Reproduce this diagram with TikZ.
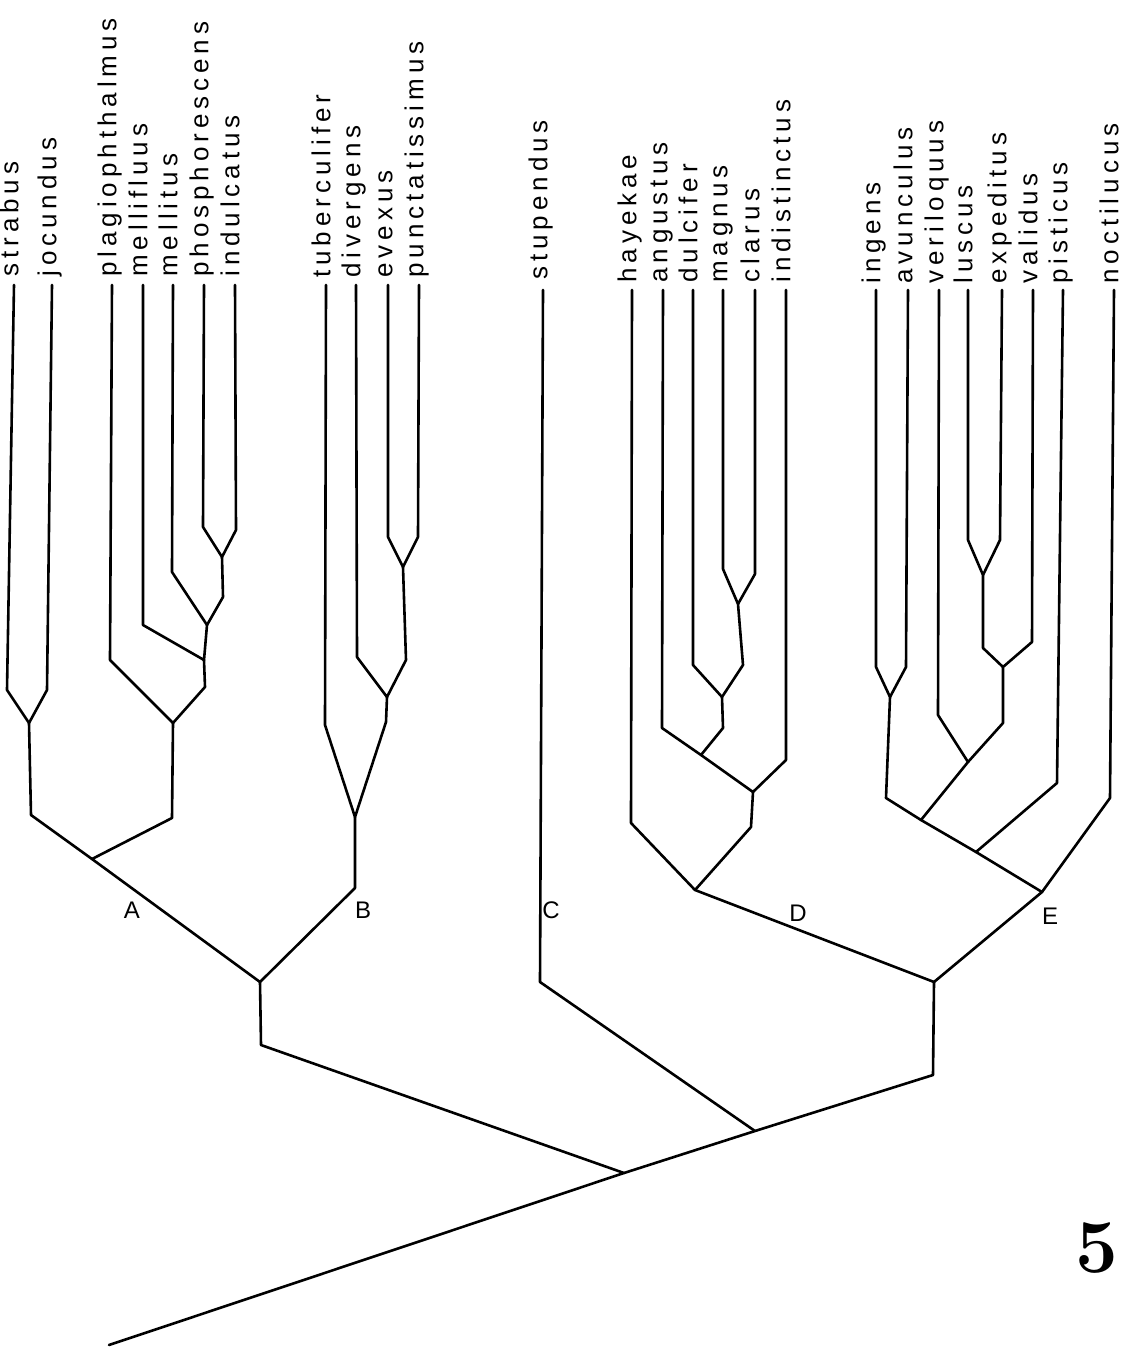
\documentclass[tikz,border=0pt]{standalone}
\usepackage{fontspec}
\newfontfamily\labfont{Liberation Sans}[LetterSpace=19]
\newfontfamily\cladefont{Liberation Sans}
\begin{document}
\begin{tikzpicture}[x=0.5pt,y=-0.5pt]
\tikzset{
  branch/.style={line width=1.3pt, line join=round, line cap=round},
  taxon/.style={rotate=90, anchor=mid west, inner sep=0pt, font=\labfont\fontsize{13}{15}\selectfont},
  clade/.style={inner sep=0pt, font=\cladefont\fontsize{12}{14}\selectfont},
}
\useasboundingbox (0,0) rectangle (1139,1349);
% ---- leaf tops and bottoms
\coordinate (strabus) at (14,285);   \coordinate (strabus-b) at (7,690);
\coordinate (jocundus) at (52,285);  \coordinate (jocundus-b) at (47,690);
\coordinate (plagio) at (112,285);   \coordinate (plagio-b) at (110,660);
\coordinate (mellifluus) at (143,285); \coordinate (mellifluus-b) at (143,625);
\coordinate (mellitus) at (173,285); \coordinate (mellitus-b) at (172,572);
\coordinate (phosph) at (204,285);   \coordinate (phosph-b) at (203,527);
\coordinate (indulc) at (235,285);   \coordinate (indulc-b) at (236,530);
\coordinate (tuberc) at (326,285);   \coordinate (tuberc-b) at (325,725);
\coordinate (diverg) at (356,285);   \coordinate (diverg-b) at (357,657);
\coordinate (evexus) at (388,285);   \coordinate (evexus-b) at (388,537);
\coordinate (punct) at (419,285);    \coordinate (punct-b) at (418,537);
\coordinate (stupendus) at (543,290); \coordinate (stupendus-b) at (540,982);
\coordinate (hayekae) at (632,290);  \coordinate (hayekae-b) at (631,823);
\coordinate (angustus) at (663,290); \coordinate (angustus-b) at (662,728);
\coordinate (dulcifer) at (693,290); \coordinate (dulcifer-b) at (693,665);
\coordinate (magnus) at (723,290);   \coordinate (magnus-b) at (723,569);
\coordinate (clarus) at (755,290);   \coordinate (clarus-b) at (755,574);
\coordinate (indist) at (786,290);   \coordinate (indist-b) at (786,760);
\coordinate (ingens) at (876,290);   \coordinate (ingens-b) at (876,667);
\coordinate (avunc) at (908,290);    \coordinate (avunc-b) at (906,667);
\coordinate (veril) at (939,290);    \coordinate (veril-b) at (938,715);
\coordinate (luscus) at (968,290);   \coordinate (luscus-b) at (968,540);
\coordinate (exped) at (1002,290);   \coordinate (exped-b) at (1000,540);
\coordinate (validus) at (1033,290); \coordinate (validus-b) at (1032,642);
\coordinate (pisticus) at (1063,290); \coordinate (pisticus-b) at (1057,783);
\coordinate (noctil) at (1114,290);  \coordinate (noctil-b) at (1110,798);
% ---- junctions
\coordinate (j1) at (29,723);  \coordinate (j1b) at (31,815);
\coordinate (m4) at (222,557); \coordinate (m4b) at (223,597);
\coordinate (m3) at (207,625);
\coordinate (m2) at (204,660); \coordinate (m2b) at (205,687);
\coordinate (p1) at (173,723); \coordinate (p1b) at (172,818);
\coordinate (a1) at (92,859);
\coordinate (ab) at (260,982); \coordinate (abb) at (261,1045);
\coordinate (b3) at (403,567); \coordinate (b3b) at (406,660);
\coordinate (b2) at (387,697); \coordinate (b2b) at (386,722);
\coordinate (b1) at (355,817); \coordinate (b1b) at (355,888);
\coordinate (r1) at (624,1173);
\coordinate (r2) at (755,1131);
\coordinate (rr) at (933,1075);
\coordinate (de) at (934,982);
\coordinate (d1) at (695,890);
\coordinate (d2) at (753,792); \coordinate (d2b) at (751,827);
\coordinate (d3) at (701,755);
\coordinate (d4) at (722,697); \coordinate (d4b) at (723,728);
\coordinate (d5) at (738,604); \coordinate (d5b) at (743,665);
\coordinate (e1) at (1042,892);
\coordinate (e3) at (976,852);
\coordinate (e4) at (921,820);
\coordinate (e5) at (890,697); \coordinate (e5b) at (886,798);
\coordinate (e6) at (968,762);
\coordinate (e7) at (1003,667); \coordinate (e7b) at (1003,723);
\coordinate (e8) at (983,575); \coordinate (e8b) at (983,648);
\coordinate (root) at (109,1345);
% ---- branches
\begin{scope}[branch]
\draw (strabus) -- (strabus-b) -- (j1) -- (jocundus-b) -- (jocundus);
\draw (j1) -- (j1b) -- (a1) -- (ab);
\draw (phosph) -- (phosph-b) -- (m4) -- (indulc-b) -- (indulc);
\draw (m4) -- (m4b) -- (m3) -- (mellitus-b) -- (mellitus);
\draw (m3) -- (m2) -- (mellifluus-b) -- (mellifluus);
\draw (m2) -- (m2b) -- (p1) -- (plagio-b) -- (plagio);
\draw (p1) -- (p1b) -- (a1);
\draw (evexus) -- (evexus-b) -- (b3) -- (punct-b) -- (punct);
\draw (b3) -- (b3b) -- (b2) -- (diverg-b) -- (diverg);
\draw (b2) -- (b2b) -- (b1) -- (tuberc-b) -- (tuberc);
\draw (b1) -- (b1b) -- (ab) -- (abb) -- (r1) -- (root);
\draw (r1) -- (r2) -- (rr) -- (de);
\draw (stupendus) -- (stupendus-b) -- (r2);
\draw (de) -- (d1) -- (hayekae-b) -- (hayekae);
\draw (d1) -- (d2b) -- (d2) -- (indist-b) -- (indist);
\draw (d2) -- (d3) -- (angustus-b) -- (angustus);
\draw (d3) -- (d4b) -- (d4) -- (dulcifer-b) -- (dulcifer);
\draw (d4) -- (d5b) -- (d5) -- (magnus-b) -- (magnus);
\draw (d5) -- (clarus-b) -- (clarus);
\draw (de) -- (e1) -- (noctil-b) -- (noctil);
\draw (e1) -- (e3) -- (pisticus-b) -- (pisticus);
\draw (e3) -- (e4) -- (e5b) -- (e5) -- (ingens-b) -- (ingens);
\draw (e5) -- (avunc-b) -- (avunc);
\draw (e4) -- (e6) -- (veril-b) -- (veril);
\draw (e6) -- (e7b) -- (e7) -- (validus-b) -- (validus);
\draw (e7) -- (e8b) -- (e8) -- (luscus-b) -- (luscus);
\draw (e8) -- (exped-b) -- (exped);
\end{scope}
% ---- taxon labels
\node[taxon] (n-strabus) at (14,277) {strabus};
\node[taxon] (n-jocundus) at (52,277) {jocundus};
\node[taxon] (n-plagio) at (112,277) {plagiophthalmus};
\node[taxon] (n-mellifluus) at (143,277) {mellifluus};
\node[taxon] (n-mellitus) at (173,277) {mellitus};
\node[taxon] (n-phosph) at (204,277) {phosphorescens};
\node[taxon] (n-indulc) at (235,277) {indulcatus};
\node[taxon] (n-tuberc) at (326,278) {tuberculifer};
\node[taxon] (n-diverg) at (356,278) {divergens};
\node[taxon] (n-evexus) at (388,278) {evexus};
\node[taxon] (n-punct) at (419,278) {punctatissimus};
\node[taxon] (n-stupendus) at (543,280) {stupendus};
\node[taxon] (n-hayekae) at (632,283) {hayekae};
\node[taxon] (n-angustus) at (663,283) {angustus};
\node[taxon] (n-dulcifer) at (693,283) {dulcifer};
\node[taxon] (n-magnus) at (723,283) {magnus};
\node[taxon] (n-clarus) at (755,283) {clarus};
\node[taxon] (n-indist) at (786,283) {indistinctus};
\node[taxon] (n-ingens) at (876,284) {ingens};
\node[taxon] (n-avunc) at (908,284) {avunculus};
\node[taxon] (n-veril) at (939,284) {veriloquus};
\node[taxon] (n-luscus) at (968,284) {luscus};
\node[taxon] (n-exped) at (1002,284) {expeditus};
\node[taxon] (n-validus) at (1033,284) {validus};
\node[taxon] (n-pisticus) at (1063,284) {pisticus};
\node[taxon] (n-noctil) at (1114,284) {noctilucus};
% ---- clade letters
\node[clade] (cA) at (132,910) {A};
\node[clade] (cB) at (363,910) {B};
\node[clade] (cC) at (551,910) {C};
\node[clade] (cD) at (798,913) {D};
\node[clade] (cE) at (1050,916) {E};
% ---- figure number
\node[inner sep=0pt] (fignum) at (1097,1248) {\fontsize{38}{42}\selectfont\bfseries 5};
\end{tikzpicture}
\end{document}
